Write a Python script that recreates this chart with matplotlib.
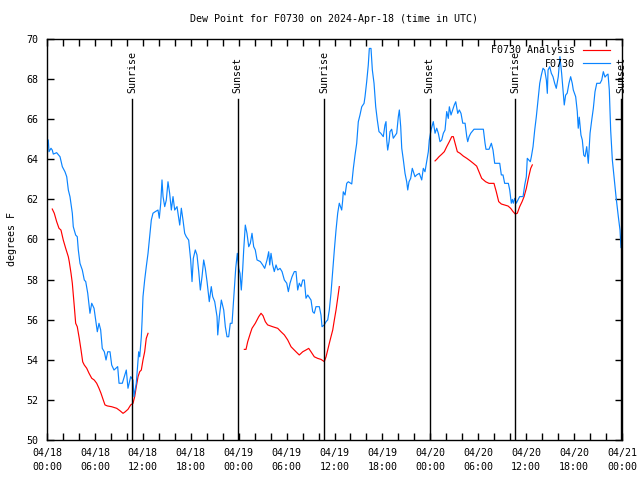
import numpy as np
import pandas as pd
import matplotlib
matplotlib.use("Agg")
import matplotlib.pyplot as plt
import matplotlib.dates as mdates

START = "2024-04-18 00:00"

# F0730 observations: hours after start, dew point (F)
obs_hours = [0.16, 0.25, 0.50, 0.66, 0.79, 1.21, 1.63, 1.92, 2.25, 2.47, 2.67, 2.88, 3.17, 3.29, 3.59, 3.79,
             3.92, 4.13, 4.42, 4.67, 4.85, 5.10, 5.26, 5.38, 5.60, 5.89, 6.10, 6.30, 6.51, 6.72, 6.92, 7.18,
             7.39, 7.60, 7.89, 8.10, 8.39, 8.64, 8.85, 9.02, 9.43, 9.93, 10.14, 10.48, 10.77, 10.89, 11.18,
             11.48, 11.61, 11.81, 11.90, 12.02, 12.23, 12.43, 12.65, 12.86, 13.06, 13.27, 13.56, 13.90,
             14.06, 14.24, 14.40, 14.53, 14.74, 14.94, 15.15, 15.36, 15.57, 15.78, 15.99, 16.28, 16.62,
             16.82, 17.03, 17.24, 17.44, 17.74, 17.99, 18.16, 18.32, 18.57, 18.78, 19.00, 19.20, 19.41,
             19.62, 19.82, 20.04, 20.32, 20.57, 20.75, 21.00, 21.29, 21.38, 21.58, 21.83, 22.13, 22.33,
             22.54, 22.75, 22.95, 23.17, 23.45, 23.63, 23.83, 24.01, 24.17, 24.33, 24.51, 24.63, 24.83,
             25.04, 25.26, 25.46, 25.67, 25.88, 26.08, 26.30, 26.71, 27.01, 27.26, 27.55, 27.76, 27.89,
             28.05, 28.26, 28.46, 28.68, 28.89, 29.18, 29.43, 29.72, 30.02, 30.22, 30.43, 30.68, 30.97,
             31.18, 31.39, 31.59, 31.81, 32.02, 32.22, 32.43, 32.65, 33.06, 33.27, 33.47, 33.68, 34.10,
             34.31, 34.44, 34.72, 34.94, 35.15, 35.35, 35.56, 35.78, 35.98, 36.19, 36.40, 36.60, 36.90,
             37.03, 37.10, 37.32, 37.53, 37.73, 38.16, 38.36, 38.57, 38.78, 38.98, 39.19, 39.41, 39.70,
             39.82, 40.03, 40.23, 40.36, 40.57, 40.74, 40.95, 41.16, 41.36, 41.57, 41.79, 42.11, 42.32,
             42.45, 42.54, 42.66, 42.83, 42.95, 43.16, 43.36, 43.79, 43.99, 44.12, 44.29, 44.42, 44.62,
             44.83, 45.04, 45.17, 45.33, 45.54, 45.74, 46.08, 46.29, 46.62, 46.92, 47.12, 47.33, 47.54,
             47.75, 47.87, 48.09, 48.37, 48.59, 48.80, 49.00, 49.21, 49.42, 49.63, 49.84, 50.05, 50.25,
             50.38, 50.59, 50.80, 51.00, 51.18, 51.43, 51.63, 51.84, 52.06, 52.35, 52.56, 52.68, 52.85,
             53.06, 53.47, 54.64, 54.85, 54.97, 55.35, 55.64, 55.85, 56.06, 56.69, 56.89, 57.10, 57.31,
             57.77, 57.94, 58.14, 58.27, 58.39, 58.56, 58.77, 58.94, 59.19, 59.61, 59.82, 60.02, 60.14,
             60.36, 60.52, 60.65, 60.86, 61.07, 61.27, 61.49, 61.70, 61.90, 62.11, 62.32, 62.53, 62.65,
             62.74, 62.95, 63.15, 63.36, 63.57, 63.77, 64.02, 64.23, 64.44, 64.60, 64.77, 64.94, 65.14,
             65.36, 65.57, 65.77, 65.90, 66.20, 66.40, 66.52, 66.65, 66.86, 67.03, 67.21, 67.37, 67.58,
             67.78, 68.00, 68.21, 68.41, 68.62, 68.84, 69.25, 69.46, 69.66, 69.87, 70.08, 70.25, 70.41,
             70.58, 70.79, 71.04, 71.25, 71.54, 71.75, 71.87]
obs_dewpt = [64.96, 64.38, 64.55, 64.46, 64.26, 64.33, 64.13, 63.63, 63.38, 63.13, 62.47, 62.13, 61.31, 60.64,
             60.22, 60.14, 59.48, 58.81, 58.48, 57.98, 57.90, 57.32, 56.73, 56.32, 56.82, 56.57, 55.99,
             55.40, 55.82, 55.49, 54.57, 54.40, 53.99, 54.40, 54.40, 53.74, 53.49, 53.58, 53.66, 52.83,
             52.83, 53.49, 52.58, 53.16, 52.99, 52.16, 52.83, 54.40, 54.15, 55.15, 55.90, 57.15, 57.98,
             58.64, 59.31, 60.14, 60.97, 61.31, 61.39, 61.47, 61.06, 61.81, 62.97, 62.14, 61.64, 61.97,
             62.88, 62.30, 61.47, 62.14, 61.47, 61.64, 60.72, 61.56, 60.97, 60.31, 60.14, 59.97, 58.98,
             57.90, 59.06, 59.48, 59.23, 58.40, 57.48, 58.14, 58.98, 58.56, 57.90, 56.90, 57.65, 57.15,
             56.90, 56.15, 55.24, 56.15, 56.98, 56.48, 55.65, 55.15, 55.15, 55.82, 55.82, 57.48, 58.56,
             59.31, 58.56, 58.31, 57.48, 58.56, 59.48, 60.72, 60.31, 59.64, 59.81, 60.31, 59.64, 59.48,
             58.98, 58.90, 58.73, 58.56, 58.98, 59.39, 58.73, 59.31, 58.73, 58.40, 58.73, 58.48, 58.56,
             58.40, 57.98, 57.82, 57.40, 57.82, 58.14, 58.40, 58.40, 57.48, 57.82, 57.65, 57.98, 57.98,
             57.07, 57.23, 56.98, 56.40, 56.32, 56.65, 56.65, 56.23, 55.65, 55.74, 55.90, 55.99, 56.48,
             57.32, 58.48, 59.48, 60.47, 61.31, 61.81, 61.47, 61.97, 62.38, 62.22, 62.80, 62.88, 62.77,
             63.55, 64.21, 64.80, 65.87, 66.21, 66.62, 66.79, 67.12, 67.87, 68.70, 69.53, 69.53, 68.45,
             67.79, 66.62, 65.96, 65.38, 65.30, 65.13, 65.71, 65.88, 64.96, 64.46, 64.88, 65.38, 65.50,
             65.05, 65.30, 66.12, 66.46, 65.63, 64.55, 63.97, 63.30, 62.88, 62.47, 62.88, 63.05, 63.55,
             63.13, 63.22, 63.30, 62.97, 63.55, 63.38, 63.88, 64.38, 64.96, 65.46, 65.88, 65.30, 65.55,
             65.30, 64.88, 64.96, 65.30, 65.46, 66.38, 66.04, 66.62, 66.21, 66.46, 66.71, 66.87, 66.29,
             66.46, 66.29, 65.80, 65.80, 65.13, 64.88, 65.13, 65.30, 65.50, 65.50, 64.80, 64.50, 64.50,
             64.80, 64.46, 63.80, 63.80, 63.22, 63.22, 62.80, 62.80, 62.47, 61.81, 62.00, 61.81, 62.05,
             61.81, 61.95, 62.14, 62.14, 62.72, 63.13, 64.05, 63.95, 63.88, 64.13, 64.63, 65.46, 66.12,
             66.96, 67.79, 68.20, 68.54, 68.45, 67.95, 67.29, 68.45, 68.62, 68.29, 68.12, 67.79, 67.54,
             68.12, 69.12, 68.29, 67.50, 66.71, 67.20, 67.30, 67.79, 68.12, 67.79, 67.46, 67.12, 66.38,
             65.55, 66.10, 65.21, 64.96, 64.21, 64.13, 64.63, 63.80, 65.30, 65.96, 66.54, 67.37, 67.79,
             67.79, 67.95, 68.37, 68.10, 68.20, 68.25, 67.46, 65.46, 63.97, 62.97, 62.14, 61.14, 60.47,
             59.60]

# F0730 Analysis: three separate runs (hours after start, dew point F)
ana1_hours = [0.66, 0.91, 1.21, 1.50, 1.75, 2.04, 2.34, 2.67, 2.79, 3.01, 3.17, 3.42, 3.59, 3.79, 4.04, 4.26,
              4.47, 4.67, 4.97, 5.26, 5.60, 5.92, 6.22, 6.51, 6.76, 7.05, 7.26, 7.55, 8.10, 8.73, 9.14, 9.52,
              9.77, 10.14, 10.48, 10.77, 10.98, 11.18, 11.40, 11.61, 11.81, 12.02, 12.23, 12.43, 12.65]
ana1_dewpt = [61.52, 61.31, 60.89, 60.56, 60.47, 59.97, 59.56, 59.14, 58.89, 58.31, 57.82, 56.65, 55.82, 55.65,
              55.07, 54.49, 53.90, 53.74, 53.58, 53.33, 53.08, 52.99, 52.83, 52.58, 52.33, 51.99, 51.75,
              51.70, 51.66, 51.58, 51.46, 51.33, 51.40, 51.53, 51.75, 51.83, 52.16, 52.66, 53.16, 53.41,
              53.49, 53.99, 54.40, 55.07, 55.32]
ana2_hours = [24.71, 24.92, 25.13, 25.46, 25.67, 26.08, 26.51, 26.80, 27.05, 27.34, 27.63, 28.26, 28.89, 29.30,
              29.72, 30.14, 30.56, 31.18, 31.59, 32.02, 32.43, 32.77, 33.06, 33.47, 33.90, 34.31, 34.72,
              34.94, 35.15, 35.35, 35.56, 35.78, 35.98, 36.19, 36.40, 36.60]
ana2_dewpt = [54.52, 54.52, 54.90, 55.32, 55.57, 55.82, 56.15, 56.32, 56.20, 55.90, 55.74, 55.65, 55.57, 55.40,
              55.24, 54.99, 54.65, 54.40, 54.24, 54.40, 54.49, 54.57, 54.40, 54.15, 54.07, 54.02, 53.91,
              54.15, 54.49, 54.82, 55.15, 55.49, 55.99, 56.48, 57.07, 57.65]
ana3_hours = [48.59, 48.80, 49.09, 49.42, 49.75, 50.05, 50.38, 50.68, 50.88, 51.10, 51.38, 51.72, 52.13, 52.56,
              52.97, 53.38, 53.80, 54.09, 54.43, 54.93, 55.35, 55.97, 56.26, 56.56, 56.89, 57.31, 57.73,
              58.07, 58.36, 58.64, 58.89, 59.19, 59.49, 59.74, 60.02, 60.32, 60.57, 60.77]
ana3_dewpt = [63.92, 64.00, 64.13, 64.25, 64.38, 64.63, 64.88, 65.13, 65.13, 64.80, 64.38, 64.30, 64.16, 64.05,
              63.93, 63.80, 63.66, 63.38, 63.05, 62.88, 62.80, 62.80, 62.38, 61.89, 61.77, 61.72, 61.67,
              61.55, 61.39, 61.27, 61.31, 61.64, 61.89, 62.14, 62.55, 63.13, 63.55, 63.72]

sun_events = ["Sunrise", "Sunset", "Sunrise", "Sunset", "Sunrise", "Sunset"]
sun_times = ["2024-04-18 10:40", "2024-04-18 23:52", "2024-04-19 10:42",
             "2024-04-19 23:55", "2024-04-20 10:38", "2024-04-20 23:52"]

start = pd.Timestamp(START)
def to_time(h):
    return start + pd.to_timedelta(np.asarray(h), unit="h")

mono = "DejaVu Sans Mono"
fs = 7.2
plt.rcParams["font.family"] = mono

fig = plt.figure(figsize=(6.4, 4.8), dpi=100)
ax = fig.add_axes([47 / 640, 1 - 440 / 480, 575 / 640, 401 / 480])

red = "#ff0000"
blue = "#0a84ff"
lw = 0.85
ax.plot(to_time(ana1_hours), ana1_dewpt, color=red, lw=lw, label="F0730 Analysis")
ax.plot(to_time(ana2_hours), ana2_dewpt, color=red, lw=lw)
ax.plot(to_time(ana3_hours), ana3_dewpt, color=red, lw=lw)
ax.plot(to_time(obs_hours), obs_dewpt, color=blue, lw=lw, label="F0730")

ax.set_xlim(start, start + pd.Timedelta(hours=72))
ax.set_ylim(50, 70)

for ev, t in zip(sun_events, sun_times):
    tt = pd.Timestamp(t)
    ax.plot([tt, tt], [50, 67.0], color="black", lw=1.0)
    ax.text(tt, 67.3, ev, rotation=90, ha="center", va="bottom", fontsize=fs, family=mono)

ax.xaxis.set_major_locator(mdates.HourLocator(byhour=range(0, 24, 6)))
ax.xaxis.set_minor_locator(mdates.HourLocator(byhour=range(0, 24, 2)))
ax.xaxis.set_major_formatter(mdates.DateFormatter("%m/%d\n%H:%M"))
ax.set_yticks(np.arange(50, 71, 2))
ax.tick_params(axis="both", which="both", direction="in", top=True, right=True,
               length=5, width=1, labelsize=fs)
ax.tick_params(axis="x", which="major", pad=6)
ax.tick_params(axis="y", which="major", pad=6)
for lab in ax.get_xticklabels():
    lab.set_linespacing(1.5)
for s in ax.spines.values():
    s.set_linewidth(1.0)

ax.set_ylabel("degrees F", fontsize=fs, labelpad=7)
ax.set_title("Dew Point for F0730 on 2024-Apr-18 (time in UTC)", fontsize=fs, pad=12)

leg = ax.legend(loc="upper right", bbox_to_anchor=((611 - 47) / 575, 0.987), frameon=False,
                markerfirst=False, fontsize=fs, handlelength=2.7, handletextpad=0.8,
                labelspacing=0.35, borderpad=0.1, borderaxespad=0.0)

fig.savefig("out.png", dpi=100)
